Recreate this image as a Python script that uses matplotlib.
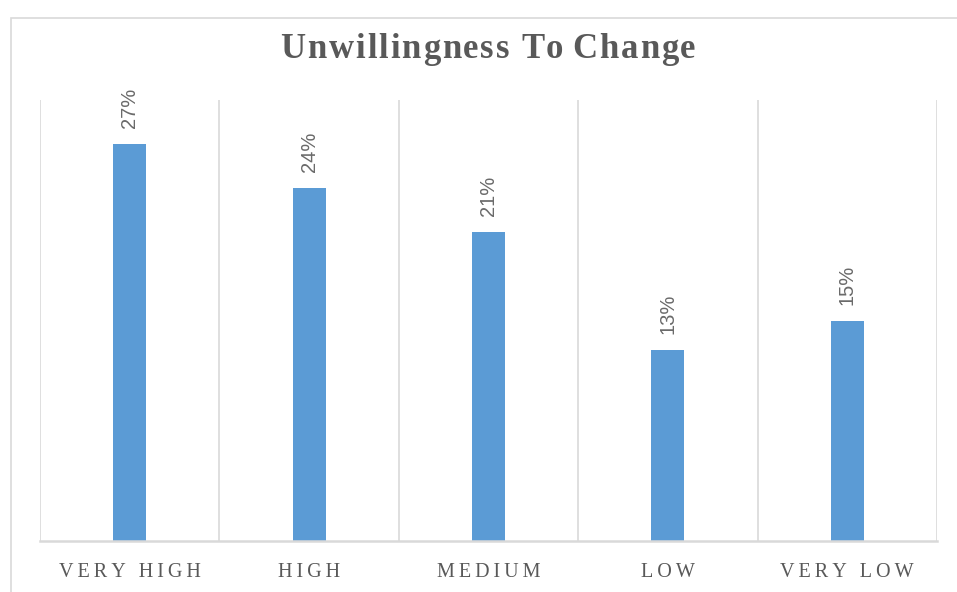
import matplotlib
matplotlib.use("Agg")
import matplotlib.pyplot as plt
from matplotlib.patches import Rectangle

categories = ["VERY HIGH", "HIGH", "MEDIUM", "LOW", "VERY LOW"]
values = [27, 24, 21, 13, 15]
value_labels = ["27%", "24%", "21%", "13%", "15%"]
title = "Unwillingness To Change"

BAR_COLOR = "#5B9BD5"
TEXT_COLOR = "#595959"
LABEL_COLOR = "#6A6A6A"
GRID_COLOR = "#D9D9D9"
SERIF = ["Liberation Serif", "DejaVu Serif"]
SANS = ["Liberation Sans", "DejaVu Sans"]


def spaced(s):
    # widen tracking with thin spaces between letters
    return "\u2009".join(s)


def tracked_text(fig, cx, cy, s, track_px, **kw):
    """Draw a centred string with extra letter spacing (in pixels)."""
    renderer = fig.canvas.get_renderer()
    W = fig.bbox.width

    def raw(t):
        probe = fig.text(0, 0, t, **kw)
        w = probe.get_window_extent(renderer).width
        probe.remove()
        return w

    bar_w = raw("|")

    def width(t):
        # a trailing guard glyph keeps trailing spaces in the measurement
        if not t:
            return 0.0
        return raw(t + "|") - bar_w

    total = width(s) + track_px * (len(s) - 1)
    x0 = cx * W - total / 2
    for i, ch in enumerate(s):
        if ch == " ":
            continue
        xp = x0 + width(s[:i]) + i * track_px
        fig.text(xp / W, cy, ch, ha="left", va="center", **kw)


W, H = 957, 592
fig = plt.figure(figsize=(W / 100, H / 100), dpi=100)
fig.patch.set_facecolor("white")

# chart-area frame
fig.add_artist(Rectangle((11 / W, -0.05), 1.2, 1 - 18 / H + 0.05,
                         transform=fig.transFigure, fill=False,
                         edgecolor=GRID_COLOR, linewidth=1.2))

ax = fig.add_axes([40 / W, 1 - 541 / H, (937 - 40) / W, (541 - 100) / H])
x = list(range(len(categories)))
ax.bar(x, values, width=0.185, color=BAR_COLOR, zorder=3)
ax.set_xlim(-0.5, len(categories) - 0.5)
ax.set_ylim(0, 30)

for xi, v, lab in zip(x, values, value_labels):
    ax.annotate(lab, (xi, v), xytext=(0, 11.5), textcoords="offset points",
                rotation=90, ha="center", va="bottom", fontsize=14.5,
                color=LABEL_COLOR, family=SANS, zorder=4)

# vertical separators between categories
for b in [i - 0.5 for i in range(len(categories) + 1)]:
    ax.axvline(b, color=GRID_COLOR, linewidth=1.2, zorder=1)

for s in ["top", "left", "right"]:
    ax.spines[s].set_visible(False)
ax.spines["bottom"].set_color(GRID_COLOR)
ax.spines["bottom"].set_linewidth(1.8)
ax.spines["bottom"].set_zorder(5)

ax.set_yticks([])
ax.set_xticks(x)
ax.set_xticklabels([spaced(c) for c in categories], family=SERIF,
                   fontsize=14.5, color=TEXT_COLOR)
ax.tick_params(axis="x", length=0, pad=16)

tracked_text(fig, 488 / W, 1 - 50 / H, title, 1.85,
             fontsize=25, fontweight="bold", color=TEXT_COLOR, family=SERIF)

fig.savefig("out.png", dpi=100, facecolor="white")
